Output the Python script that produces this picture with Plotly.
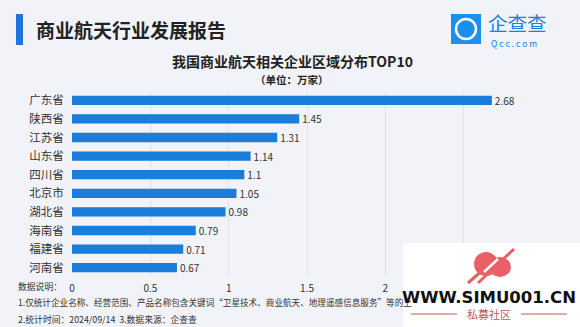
import plotly.graph_objects as go

provinces = ["广东省", "陕西省", "江苏省", "山东省", "四川省", "北京市", "湖北省", "海南省", "福建省", "河南省"]
counts = [2.68, 1.45, 1.31, 1.14, 1.1, 1.05, 0.98, 0.79, 0.71, 0.67]
x_ticks = [0, 0.5, 1, 1.5, 2, 2.5, 3]
# 2.5 and 3 are covered by the watermark in the reference
x_tick_labels = ["0", "0.5", "1", "1.5", "2", "", ""]

FONT = "Noto Sans CJK SC"
W, H = 580, 327
ML, MR, MT, MB = 72, 38, 91, 50
PW, PH = W - ML - MR, H - MT - MB


def px(x):
    return (x - ML) / PW


def py(y):
    return (H - MB - y) / PH


fig = go.Figure()
fig.add_trace(go.Bar(
    y=provinces, x=counts, orientation="h",
    marker=dict(color="#1a7dd9", line=dict(width=0)),
    width=0.5,
    text=[str(v) for v in counts], textposition="outside",
    textfont=dict(size=10, color="#333333", family=FONT),
    constraintext="none",
    cliponaxis=False,
))

fig.update_layout(
    width=W, height=H, autosize=False,
    margin=dict(l=ML, r=MR, t=MT, b=MB),
    paper_bgcolor="#f1f3f8", plot_bgcolor="rgba(0,0,0,0)",
    showlegend=False,
    font=dict(family=FONT, color="#333333"),
    xaxis=dict(range=[0, 3], tickvals=x_ticks, ticktext=x_tick_labels,
               showgrid=True, gridcolor="#dfe3ea", gridwidth=1,
               zeroline=False, showline=False,
               tickfont=dict(size=10, color="#333333"),
               ticks="outside", ticklen=2, tickcolor="rgba(0,0,0,0)", fixedrange=True),
    yaxis=dict(autorange="reversed", showgrid=False, zeroline=False, showline=False,
               ticks="outside", ticklen=5, tickcolor="rgba(0,0,0,0)",
               tickfont=dict(size=11.5, color="#333333")),
    bargap=0.5,
)


def rect(x0, x1, y0, y1, **kw):
    return dict(type="rect", xref="paper", yref="paper", x0=px(x0), x1=px(x1),
                y0=py(y1), y1=py(y0), layer="above", **kw)


def line(x0, y0, x1, y1, color, width):
    return dict(type="line", xref="paper", yref="paper", x0=px(x0), x1=px(x1), y0=py(y0), y1=py(y1),
                line=dict(width=width, color=color), layer="above")


def circle(x0, x1, y0, y1, color):
    return dict(type="circle", xref="paper", yref="paper", x0=px(x0), x1=px(x1), y0=py(y1), y1=py(y0),
                fillcolor=color, line=dict(width=0), layer="above")


shapes = [
    rect(16, 23, 14, 45, fillcolor="#1c76e0", line=dict(width=0)),
    rect(451, 481, 14, 44, fillcolor="#1a8ff0", line=dict(width=0)),
    dict(type="circle", xref="paper", yref="paper", x0=px(456), x1=px(476), y0=py(39), y1=py(19),
         fillcolor="rgba(0,0,0,0)", line=dict(width=2.5, color="white"), layer="above"),
    rect(403, 580, 243, 327, fillcolor="white", line=dict(width=0)),
    line(411, 314, 457, 314, "#c05a5a", 1),
    line(521, 314, 567, 314, "#c05a5a", 1),
    circle(474, 498, 252, 276, "#ea6068"),
    circle(489, 511, 257, 277, "#ea6068"),
    line(468, 283, 492, 262, "#ea6068", 3),
    line(478, 283, 514, 249, "#ea6068", 3),
    line(484, 272, 498, 259, "#ffffff", 2.5),
]


def ann(text, x, y, size, color="#222222", anchor="left", family=FONT):
    return dict(text=text, x=px(x), y=py(y), xref="paper", yref="paper",
                xanchor=anchor, yanchor="middle", showarrow=False, borderpad=0,
                font=dict(size=size, color=color, family=family))


annotations = [
    ann("<b>商业航天行业发展报告</b>", 35, 29, 19),
    ann("<b>我国商业航天相关企业区域分布TOP10</b>", 292, 61, 14, anchor="center"),
    ann("<b>（单位：万家）</b>", 292, 79, 10.5, anchor="center"),
    ann("企查查", 487, 22, 19.5, color="#1a7fe0"),
    ann("Q c c . c o m", 490, 43, 8.5, color="#1a7fe0"),
    ann("数据说明：", 17, 286, 8.8, color="#333333"),
    ann("1.仅统计企业名称、经营范围、产品名称包含关键词“卫星技术、商业航天、地理遥感信息服务”等的上",
        17, 302, 8.6, color="#333333"),
    ann("2.统计时间：2024/09/14  3.数据来源：企查查", 17, 319, 8.8, color="#333333"),
    ann("<b>WWW.SIMU001.CN</b>", 489, 297, 16.5, color="#111111", anchor="center", family="DejaVu Sans"),
    ann("私募社区", 489, 314, 11, color="#c05a5a", anchor="center"),
]

fig.update_layout(shapes=shapes, annotations=annotations)
fig.write_html("out.html")
